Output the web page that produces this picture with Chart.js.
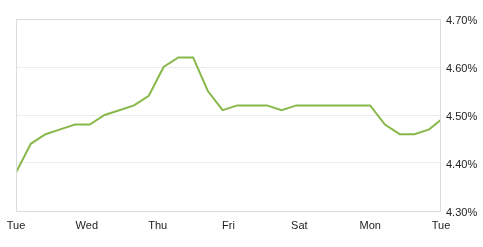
<!DOCTYPE html>
<html>
<head>
<meta charset="utf-8">
<script src="https://cdn.jsdelivr.net/npm/chart.js@4"></script>
<style>
  html, body { margin: 0; padding: 0; background: #fff; }
  #wrap { width: 483px; height: 247px; }
</style>
</head>
<body>
<div id="wrap"><canvas id="rateChart" width="483" height="247"></canvas></div>
<script>
// day labels, one every 24 hours
const dayLabels = ['Tue', 'Wed', 'Thu', 'Fri', 'Sat', 'Mon', 'Tue'];
// sample times in hours from start
const hours = [0, 5, 10, 15, 20, 25, 30, 35, 40, 45, 50, 55, 60, 65, 70,
               75, 80, 85, 90, 95, 100, 105, 110, 115, 120, 125, 130, 135, 140, 144];
// rate values (%)
const rates = [4.38, 4.44, 4.46, 4.47, 4.48, 4.48, 4.50, 4.51, 4.52, 4.54, 4.60, 4.62, 4.62, 4.55, 4.51,
               4.52, 4.52, 4.52, 4.51, 4.52, 4.52, 4.52, 4.52, 4.52, 4.52, 4.48, 4.46, 4.46, 4.47, 4.49];
const yTicks = [4.30, 4.40, 4.50, 4.60, 4.70];

const points = hours.map((h, i) => ({ x: h, y: rates[i] }));

// draws the light frame round the plot area
const frame = {
    id: 'frame',
    afterDraw(chart) {
        const a = chart.chartArea;
        const c = chart.ctx;
        c.save();
        c.strokeStyle = '#dcdcdc';
        c.lineWidth = 1;
        c.strokeRect(a.left + 0.5, a.top + 0.5, a.right - a.left - 1, a.bottom - a.top);
        c.restore();
    }
};

new Chart(document.getElementById('rateChart').getContext('2d'), {
    type: 'line',
    data: {
        datasets: [{
            data: points,
            borderColor: '#88b84a',
            borderWidth: 2,
            pointRadius: 0,
            tension: 0,
            fill: false
        }]
    },
    options: {
        responsive: false,
        animation: false,
        layout: { padding: { left: 16, top: 19, right: 0, bottom: 0 } },
        plugins: { legend: { display: false }, tooltip: { enabled: false } },
        scales: {
            x: {
                type: 'linear',
                min: 0,
                max: 144,
                afterBuildTicks(s) { s.ticks = dayLabels.map((d, i) => ({ value: i * 24 })); },
                afterFit(s) { s.height = 36; },
                grid: { display: false },
                border: { display: false },
                ticks: {
                    padding: 0,
                    color: '#222',
                    font: { family: 'Liberation Sans, Arial', size: 11 },
                    maxRotation: 0,
                    autoSkip: false,
                    callback: (v) => dayLabels[v / 24]
                }
            },
            y: {
                position: 'right',
                min: 4.30,
                max: 4.70,
                afterBuildTicks(s) { s.ticks = yTicks.map(v => ({ value: v })); },
                afterFit(s) { s.width = 42; },
                grid: { color: '#ececec', drawTicks: false },
                border: { display: false },
                ticks: {
                    padding: 5,
                    labelOffset: 2,
                    color: '#222',
                    font: { family: 'Liberation Sans, Arial', size: 11 },
                    callback: (v) => v.toFixed(2) + '%'
                }
            }
        }
    },
    plugins: [frame]
});
</script>
</body>
</html>
